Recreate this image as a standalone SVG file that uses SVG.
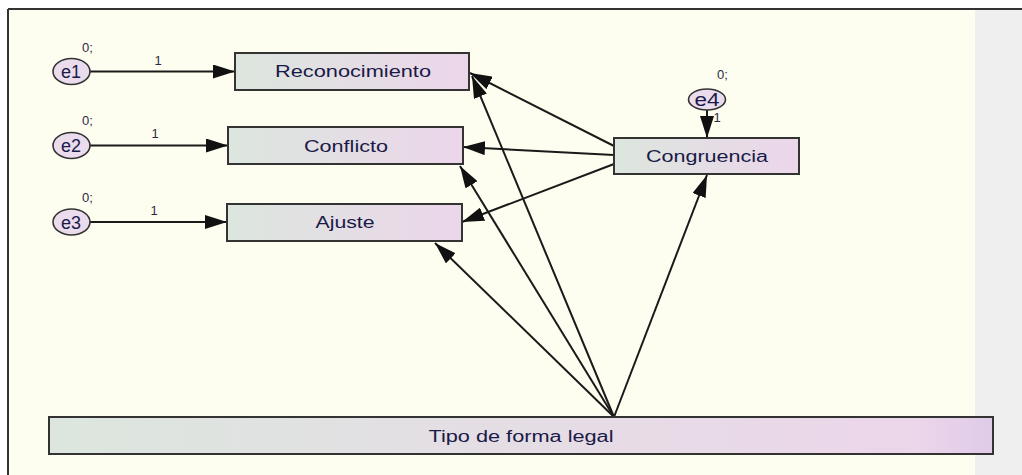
<svg xmlns="http://www.w3.org/2000/svg" width="1022" height="475" viewBox="0 0 1022 475">
<defs>
<linearGradient id="g" x1="0" y1="0" x2="1" y2="0">
<stop offset="0" stop-color="#dce6de"/>
<stop offset="1" stop-color="#ecd6ea"/>
</linearGradient>
<linearGradient id="gt" x1="0" y1="0" x2="1" y2="0">
<stop offset="0" stop-color="#dce6de"/>
<stop offset="0.92" stop-color="#ecd6ea"/>
<stop offset="1" stop-color="#dfcae8"/>
</linearGradient>
<marker id="ah" viewBox="0 0 22 14" refX="22" refY="7" markerWidth="22" markerHeight="14" markerUnits="userSpaceOnUse" orient="auto">
<path d="M0,0 L22,7 L0,14 z" fill="#111"/>
</marker>
<style>
.box{stroke:#333;stroke-width:2;fill:url(#g)}
.ell{stroke:#333;stroke-width:1.6;fill:#eadcec}
.t{font-family:"Liberation Sans",Arial,sans-serif;font-size:16px;fill:#1a1a48;text-anchor:middle}
.e{font-family:"Liberation Sans",Arial,sans-serif;font-size:18px;fill:#1a1a48;text-anchor:middle}
.s{font-family:"Liberation Sans",Arial,sans-serif;font-size:13px;fill:#2a2a44;text-anchor:middle}
.c{stroke:#1a1a1a;stroke-width:2;fill:none;marker-end:url(#ah)}
</style>
</defs>
<rect x="0" y="0" width="1022" height="475" fill="#ffffff"/>
<rect x="8" y="9" width="967" height="466" fill="#fefef0"/>
<rect x="975" y="9" width="47" height="466" fill="#efefef"/>
<line x1="8" y1="9" x2="1022" y2="9" stroke="#333" stroke-width="2"/>
<line x1="8" y1="9" x2="8" y2="475" stroke="#333" stroke-width="2"/>

<g id="connectors">
<line class="c" x1="90" y1="71.5" x2="235" y2="71.5"/>
<line class="c" x1="90" y1="145.5" x2="228" y2="145.5"/>
<line class="c" x1="90" y1="222" x2="227" y2="222"/>
<line class="c" x1="707" y1="110" x2="707" y2="138"/>
<line class="c" x1="614" y1="146" x2="470" y2="73"/>
<line class="c" x1="614" y1="155" x2="463" y2="147"/>
<line class="c" x1="614" y1="164" x2="462" y2="222"/>
<line class="c" x1="614" y1="417" x2="472" y2="76"/>
<line class="c" x1="614" y1="417" x2="460" y2="166"/>
<line class="c" x1="614" y1="417" x2="435" y2="243"/>
<line class="c" x1="614" y1="417" x2="707" y2="175"/>
</g>

<g id="e1">
<ellipse class="ell" cx="71.5" cy="71.5" rx="18.5" ry="13"/>
<text class="e" x="71" y="78">e1</text>
<text class="s" x="87.5" y="52">0;</text>
<text class="s" x="158" y="65">1</text>
</g>
<g id="e2">
<ellipse class="ell" cx="71.5" cy="145.5" rx="18.5" ry="13"/>
<text class="e" x="71" y="152">e2</text>
<text class="s" x="87.5" y="125">0;</text>
<text class="s" x="155" y="138">1</text>
</g>
<g id="e3">
<ellipse class="ell" cx="71.5" cy="222" rx="18.5" ry="13"/>
<text class="e" x="71" y="228.5">e3</text>
<text class="s" x="87.5" y="202">0;</text>
<text class="s" x="154" y="215">1</text>
</g>
<g id="e4">
<ellipse class="ell" cx="707" cy="99.5" rx="18.5" ry="10.5"/>
<text class="e" x="707" y="105.5" textLength="25" lengthAdjust="spacingAndGlyphs">e4</text>
<text class="s" x="722.5" y="79">0;</text>
<text class="s" x="717" y="122">1</text>
</g>

<g id="reconocimiento">
<rect class="box" x="235" y="53" width="234" height="37"/>
<text class="t" x="353" y="77" textLength="156" lengthAdjust="spacingAndGlyphs">Reconocimiento</text>
</g>
<g id="conflicto">
<rect class="box" x="228" y="127" width="235" height="37"/>
<text class="t" x="346" y="151.5" textLength="84" lengthAdjust="spacingAndGlyphs">Conflicto</text>
</g>
<g id="ajuste">
<rect class="box" x="227" y="204" width="235" height="37"/>
<text class="t" x="345" y="228" textLength="59" lengthAdjust="spacingAndGlyphs">Ajuste</text>
</g>
<g id="congruencia">
<rect class="box" x="614" y="138" width="185" height="36"/>
<text class="t" x="707" y="162" textLength="122" lengthAdjust="spacingAndGlyphs">Congruencia</text>
</g>
<g id="tipo">
<rect class="box" x="49" y="417" width="944" height="37" style="fill:url(#gt)"/>
<text class="t" x="521" y="442" textLength="185" lengthAdjust="spacingAndGlyphs">Tipo de forma legal</text>
</g>
</svg>
